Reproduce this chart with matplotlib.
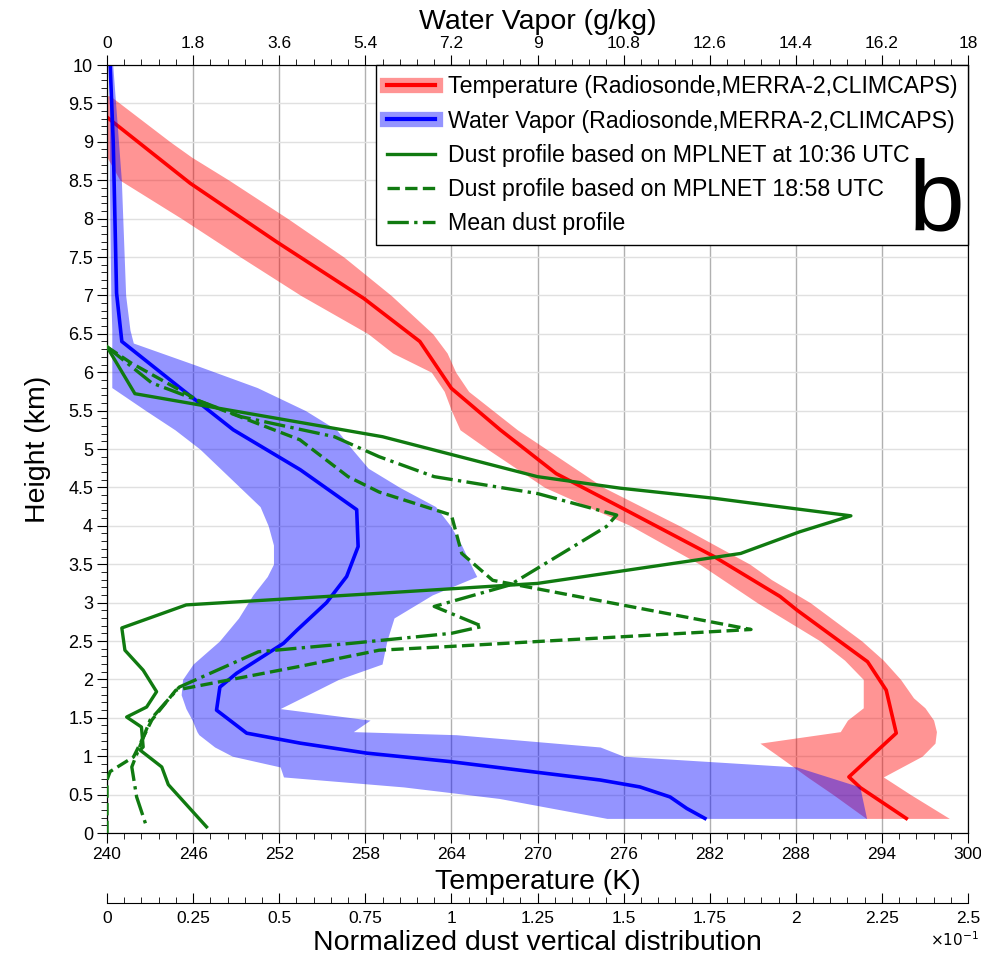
import numpy as np
import matplotlib
matplotlib.use('Agg')
import matplotlib.pyplot as plt
from matplotlib.lines import Line2D
from matplotlib.ticker import MultipleLocator, FormatStrFormatter

plt.rcParams['font.family'] = ['Liberation Sans', 'DejaVu Sans']

# temperature profile (K) and its spread between the three data sets
temp_h = [9.6, 9.26, 8.46, 7.70, 6.96, 6.40, 5.79, 5.25, 4.68, 4.25, 3.60, 3.08, 2.90,
          2.23, 1.86, 1.30, 0.73, 0.59, 0.19]
temp = [238.2, 240.4, 245.8, 251.8, 257.9, 261.8, 264.0, 267.4, 271.3, 275.7, 282.3, 286.9,
        288.1, 293.0, 294.3, 295.0, 291.7, 292.5, 295.7]

temp_band_h = [9.6, 9.3, 9.0, 8.8, 8.5, 8.0, 7.5, 7.0, 6.5, 6.25, 6.0, 5.75, 5.5, 5.25, 5.0,
               4.5, 4.0, 3.5, 3.3, 3.0, 2.5, 2.25, 2.0, 1.76, 1.63, 1.47, 1.32, 1.17, 1.0,
               0.73, 0.5, 0.19]
temp_min = [234.0, 236.0, 238.5, 240.0, 240.9, 245.2, 249.3, 253.5, 258.2, 259.9, 262.6, 263.5,
            264.0, 264.6, 266.5, 270.5, 276.5, 281.3, 282.9, 285.3, 289.7, 291.4, 292.7, 292.7,
            292.7, 291.6, 291.1, 285.5, 286.8, 288.8, 290.6, 292.9]
temp_max = [240.2, 242.3, 244.4, 245.9, 248.5, 252.6, 256.5, 259.8, 262.7, 263.7, 264.3, 265.2,
            266.9, 268.6, 270.6, 274.6, 279.9, 284.8, 286.3, 289.0, 292.6, 294.1, 295.3, 296.2,
            297.0, 297.6, 297.8, 297.7, 296.8, 294.1, 296.0, 298.7]

# water vapor mixing ratio (g/kg) and its spread
wv_h = [10.1, 9.0, 7.03, 6.40, 5.81, 5.25, 4.73, 4.21, 3.73, 3.34, 3.0, 2.64, 2.47, 2.08, 1.90,
        1.60, 1.30, 1.17, 1.04, 0.93, 0.82, 0.69, 0.60, 0.47, 0.32, 0.19]
wv = [0.06, 0.13, 0.20, 0.31, 1.50, 2.64, 4.04, 5.22, 5.25, 5.01, 4.59, 3.97, 3.69, 2.71, 2.36,
      2.29, 2.92, 4.04, 5.43, 7.17, 8.60, 10.31, 11.14, 11.77, 12.12, 12.50]

wv_band_h = [10.0, 8.5, 7.0, 6.55, 6.38, 6.1, 5.8, 5.5, 5.25, 5.0, 4.75, 4.5, 4.25, 4.0, 3.75,
             3.5, 3.34, 3.1, 2.8, 2.5, 2.2, 2.0, 1.8, 1.62, 1.47, 1.32, 1.28, 1.12, 1.0, 0.86,
             0.73, 0.6, 0.45, 0.19]
wv_min = [0.05, 0.05, 0.08, 0.10, 0.10, 0.10, 0.10, 0.81, 1.42, 1.94, 2.36, 2.78, 3.20, 3.37,
          3.48, 3.48, 3.35, 3.05, 2.75, 2.35, 1.80, 1.58, 1.55, 1.65, 1.78, 1.88, 1.92, 2.25,
          2.62, 3.62, 3.69, 6.20, 8.20, 10.45]
wv_max = [0.12, 0.30, 0.39, 0.48, 0.55, 1.82, 3.14, 4.15, 4.80, 5.12, 5.46, 6.12, 6.87, 7.18,
          7.41, 7.60, 7.73, 6.80, 6.00, 5.85, 5.75, 4.84, 4.20, 3.62, 5.50, 5.15, 7.30, 10.31,
          10.80, 14.42, 15.08, 15.74, 15.79, 15.88]

# normalized dust profiles (x 10^-1)
dust1_h = [6.33, 5.72, 5.16, 4.94, 4.64, 4.49, 4.36, 4.25, 4.13, 3.92, 3.64, 3.58, 3.25, 3.11,
           2.97, 2.67, 2.38, 2.12, 1.84, 1.64, 1.51, 1.38, 1.12, 1.08, 0.86, 0.63, 0.08]
dust1 = [0.0, 0.081, 0.80, 0.99, 1.25, 1.49, 1.76, 1.95, 2.16, 2.01, 1.84, 1.75, 1.25, 0.75,
         0.23, 0.043, 0.052, 0.105, 0.144, 0.115, 0.057, 0.10, 0.105, 0.096, 0.159, 0.178, 0.289]

dust2_h = [6.33, 6.12, 5.62, 5.12, 4.64, 4.44, 4.14, 3.64, 3.29, 2.65, 2.43, 2.38, 2.17, 1.86,
           1.47, 0.99, 0.80, 0.69, 0.0]
dust2 = [0.0, 0.07, 0.27, 0.56, 0.70, 0.79, 1.00, 1.03, 1.12, 1.87, 1.00, 0.79, 0.56, 0.20,
         0.13, 0.077, 0.009, 0.0, 0.0]

dust_mean_h = [6.33, 5.86, 5.42, 5.16, 4.90, 4.64, 4.42, 4.14, 3.99, 3.23, 2.95, 2.69, 2.60,
               2.47, 2.36, 1.90, 1.47, 0.86, 0.47, 0.08]
dust_mean = [0.0, 0.13, 0.39, 0.66, 0.79, 0.95, 1.25, 1.48, 1.45, 1.17, 0.95, 1.09, 1.00, 0.71,
             0.44, 0.21, 0.125, 0.072, 0.086, 0.115]

W, H = 981, 963
fig = plt.figure(figsize=(W / 100, H / 100), dpi=100)
ax = fig.add_axes([107 / W, 1 - 833 / H, 861 / W, 768 / H])

green = '#107a10'
lab_size = 20.5
tick_size = 12.5

# temperature (bottom axis)
ax.fill_betweenx(temp_band_h, temp_min, temp_max, color='red', alpha=0.42, lw=0)
ax.plot(temp, temp_h, color='red', lw=2.6)
ax.set_xlim(240, 300)
ax.set_ylim(0, 10)
ax.xaxis.set_major_locator(MultipleLocator(6))
ax.xaxis.set_minor_locator(MultipleLocator(1.2))
ax.yaxis.set_major_locator(MultipleLocator(0.5))
ax.yaxis.set_minor_locator(MultipleLocator(0.1))
ax.yaxis.set_major_formatter(FormatStrFormatter('%g'))
ax.grid(True, which='major', axis='x', color='#b0b0b0', lw=1)
ax.grid(True, which='major', axis='y', color='#e0e0e0', lw=1)
ax.set_axisbelow(True)
ax.set_xlabel('Temperature (K)', fontsize=lab_size, labelpad=5)
ax.set_ylabel('Height (km)', fontsize=lab_size, labelpad=12)
ax.tick_params(axis='x', which='major', direction='out', length=7, labelsize=tick_size, pad=3)
ax.tick_params(axis='x', which='minor', direction='out', length=4)
ax.tick_params(axis='y', which='major', direction='out', length=7, labelsize=13, pad=3)
ax.tick_params(axis='y', which='minor', direction='out', length=4)

# water vapor (top axis)
ax2 = ax.twiny()
ax2.fill_betweenx(wv_band_h, wv_min, wv_max, color='blue', alpha=0.42, lw=0)
ax2.plot(wv, wv_h, color='blue', lw=2.6)
ax2.set_xlim(0, 18)
ax2.xaxis.set_major_locator(MultipleLocator(1.8))
ax2.xaxis.set_minor_locator(MultipleLocator(0.36))
ax2.xaxis.set_major_formatter(FormatStrFormatter('%g'))
ax2.tick_params(axis='x', which='major', direction='out', length=7, labelsize=tick_size, pad=3)
ax2.tick_params(axis='x', which='minor', direction='out', length=4)
ax2.set_xlabel('Water Vapor (g/kg)', fontsize=lab_size, labelpad=5)

# dust profiles (separate axis below)
ax3 = ax.twiny()
ax3.plot(dust1, dust1_h, color=green, lw=2.4, ls='-')
ax3.plot(dust2, dust2_h, color=green, lw=2.4, ls='--')
ax3.plot(dust_mean, dust_mean_h, color=green, lw=2.4, ls='-.')
ax3.set_xlim(0, 2.5)
ax3.xaxis.set_ticks_position('bottom')
ax3.xaxis.set_label_position('bottom')
ax3.spines['bottom'].set_position(('outward', 50.4))
for s in ['top', 'left', 'right']:
    ax3.spines[s].set_visible(False)
ax3.xaxis.set_major_locator(MultipleLocator(0.25))
ax3.xaxis.set_minor_locator(MultipleLocator(0.05))
ax3.xaxis.set_major_formatter(FormatStrFormatter('%g'))
ax3.tick_params(axis='x', which='major', direction='in', length=7, labelsize=tick_size, pad=6)
ax3.tick_params(axis='x', which='minor', direction='in', length=4)
ax3.set_xlabel('Normalized dust vertical distribution', fontsize=lab_size, labelpad=3)
fig.text(955 / W, 1 - 940 / H, r'$\times10^{-1}$', fontsize=11, ha='center', va='center')

handles = [
    (Line2D([], [], color='red', alpha=0.42, lw=11), Line2D([], [], color='red', lw=3)),
    (Line2D([], [], color='blue', alpha=0.42, lw=11), Line2D([], [], color='blue', lw=3)),
    Line2D([], [], color=green, lw=2.4, ls='-'),
    Line2D([], [], color=green, lw=2.4, ls='--'),
    Line2D([], [], color=green, lw=2.4, ls='-.'),
]
labels = ['Temperature (Radiosonde,MERRA-2,CLIMCAPS)',
          'Water Vapor (Radiosonde,MERRA-2,CLIMCAPS)',
          'Dust profile based on MPLNET at 10:36 UTC',
          'Dust profile based on MPLNET 18:58 UTC',
          'Mean dust profile']
leg = ax3.legend(handles, labels, loc='upper right', bbox_to_anchor=(1, 1), borderaxespad=0,
                 fancybox=False, framealpha=1, edgecolor='black', handlelength=2.1,
                 handletextpad=0.55, labelspacing=0.48, borderpad=0.45,
                 prop={'family': 'Liberation Sans', 'size': 16.7})
leg.get_frame().set_linewidth(1)
ax3.text(0.995, 0.785, 'b', transform=ax3.transAxes, fontsize=72, ha='right', va='baseline',
         family='Liberation Sans', zorder=10)

fig.savefig('out.png', dpi=100)
